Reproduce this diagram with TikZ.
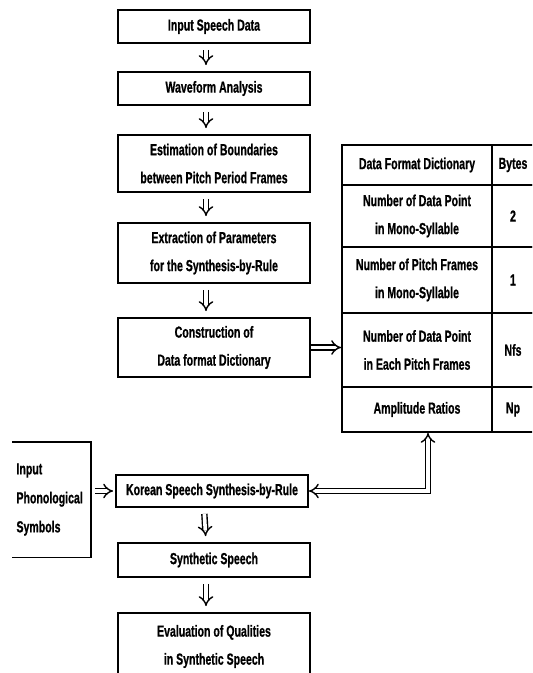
\documentclass[tikz,border=0pt]{standalone}
\usepackage{fontspec}
\setmainfont[FakeStretch=0.66, FakeBold=0.8]{Liberation Sans}
\usetikzlibrary{positioning,arrows.meta,calc}

\begin{document}
\begin{tikzpicture}[x=0.5pt, y=-0.5pt,
    font=\fontsize{8}{14}\selectfont\bfseries,
    stage/.style={draw, line width=0.9pt, minimum width=96pt, align=center, inner sep=1pt},
    cell/.style={draw, line width=0.9pt, align=center, inner sep=1pt},
    flow/.style={double, double distance=1.8pt, line width=0.7pt, -{Implies}}]
  \useasboundingbox (0,0) rectangle (532,673);
  \clip (0,0) rectangle (532,673);
  % main column
  \node[stage, minimum height=16.5pt] (speech) at (214,26.5) {Input Speech Data};
  \node[stage, minimum height=16.5pt] (wave)   at (214,88.5) {Waveform Analysis};
  \node[stage, minimum height=28.5pt] (bound)  at (214,163.5) {Estimation of Boundaries\\between Pitch Period Frames};
  \node[stage, minimum height=30pt]   (param)  at (214,253) {Extraction of Parameters\\for the Synthesis-by-Rule};
  \node[stage, minimum height=29.5pt] (dict)   at (214,347.5) {Construction of\\Data format Dictionary};
  \node[stage, minimum height=16pt]   (synrule) at (212,491) {Korean Speech Synthesis-by-Rule};
  \node[stage, minimum height=17pt]   (synth)  at (214,560) {Synthetic Speech};
  \node[stage, minimum height=33.5pt] (evalq)  at (214,646.5) {Evaluation of Qualities\\in Synthetic Speech};
  \foreach \a/\b in {speech/wave, wave/bound, bound/param, param/dict, synrule/synth, synth/evalq}{
    \draw[flow, shorten <=3pt, shorten >=3pt] ([xshift=-4pt]\a.south) -- ([xshift=-4pt]\b.north);
  }
  % dictionary table
  \node[cell, minimum width=75pt, minimum height=20pt] (head)  at (417,165) {Data Format Dictionary};
  \node[cell, minimum width=21pt, minimum height=20pt] (bytes) at (513,165) {Bytes};
  \foreach \n/\y/\h/\t/\v in {1/216/31/{Number of Data Point\\in Mono-Syllable}/2,
                              2/280/33/{Number of Pitch Frames\\in Mono-Syllable}/1,
                              3/350/37/{Number of Data Point\\in Each Pitch Frames}/Nfs,
                              4/409.5/22.5/{Amplitude Ratios}/Np}{
    \node[cell, minimum width=75pt, minimum height=\h pt] (row\n)  at (417,\y) {\t};
    \node[cell, minimum width=21pt, minimum height=\h pt] (byte\n) at (513,\y) {\v};
  }
  \draw[flow] (dict.east) -- (dict.east -| row3.west);
  \draw[flow, {Implies}-{Implies}] (synrule.east) -| ([xshift=5.5pt]row4.south);
  % phonological input
  \node[minimum width=38.5pt, minimum height=57.5pt, text width=35pt, align=left, inner sep=2pt,
        font=\fontsize{8}{14.5}\selectfont\bfseries] (phon) at (51.5,499.5) {Input\\Phonological\\Symbols};
  \draw[line width=0.9pt] (phon.north west) -- (phon.north east) -- (phon.south east) -- (phon.south west);
  \draw[flow, shorten <=2pt, shorten >=1pt] (phon.east |- synrule.west) -- (synrule.west);
\end{tikzpicture}
\end{document}
